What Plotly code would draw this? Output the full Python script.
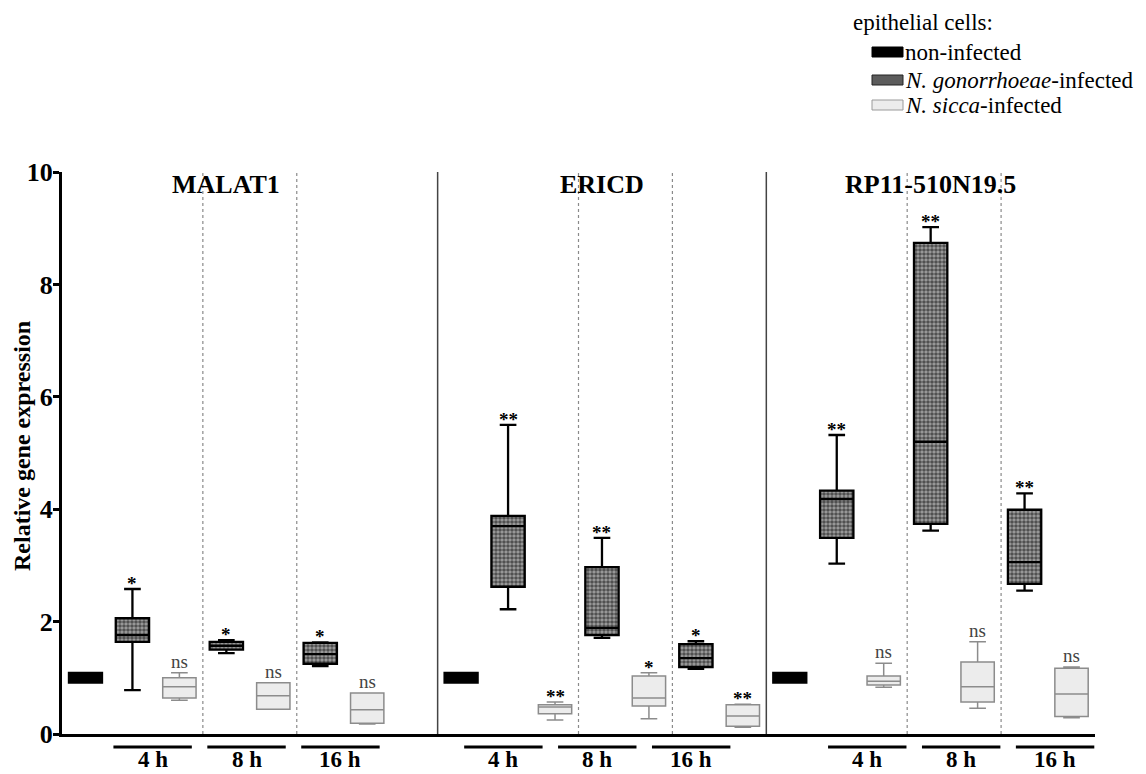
import plotly.graph_objects as go

# ---------------- data ----------------
genes = ["MALAT1", "ERICD", "RP11-510N19.5"]
times = ["4 h", "8 h", "16 h"]

# non-infected control (normalised to 1), one per gene
ctrl_q1 = [0.91, 0.91, 0.91]
ctrl_med = [1.00, 1.00, 1.00]
ctrl_q3 = [1.09, 1.09, 1.09]

# N. gonorrhoeae-infected: rows = gene, columns = 4 h, 8 h, 16 h
ng_lo = [[0.78, 1.44, 1.21], [2.22, 1.71, 1.16], [3.03, 3.62, 2.55]]
ng_q1 = [[1.64, 1.50, 1.25], [2.62, 1.76, 1.19], [3.49, 3.74, 2.67]]
ng_med = [[1.76, 1.57, 1.42], [3.70, 1.89, 1.35], [4.18, 5.20, 3.06]]
ng_q3 = [[2.06, 1.64, 1.62], [3.88, 2.97, 1.60], [4.33, 8.74, 3.99]]
ng_hi = [[2.58, 1.67, 1.63], [5.50, 3.49, 1.65], [5.32, 9.02, 4.28]]
ng_sig = [["*", "*", "*"], ["**", "**", "*"], ["**", "**", "**"]]

# N. sicca-infected
ns_lo = [[0.60, 0.44, 0.18], [0.25, 0.27, 0.12], [0.83, 0.46, 0.29]]
ns_q1 = [[0.64, 0.44, 0.19], [0.36, 0.50, 0.14], [0.87, 0.57, 0.31]]
ns_med = [[0.84, 0.68, 0.43], [0.48, 0.64, 0.32], [0.94, 0.84, 0.71]]
ns_q3 = [[1.00, 0.91, 0.73], [0.52, 1.03, 0.52], [1.03, 1.28, 1.17]]
ns_hi = [[1.09, 0.91, 0.73], [0.57, 1.09, 0.53], [1.26, 1.64, 1.19]]
ns_sig = [["ns", "ns", "ns"], ["**", "*", "**"], ["ns", "ns", "ns"]]

legend_title = "epithelial cells:"
legend_names = ["non-infected", "<i>N. gonorrhoeae</i>-infected", "<i>N. sicca</i>-infected"]
y_title = "Relative gene expression"

# ---------------- layout helpers ----------------
W, H = 1146, 774
ML, MR, MT, MB = 62, 51, 172, 40
PW, PH = W - ML - MR, H - MT - MB


def px_x(px):  # pixel -> paper x
    return (px - ML) / PW


def px_y(py):  # pixel -> paper y
    return (H - MB - py) / PH


panel_start = [0, 8, 15]           # slot index of each gene panel
label_shift = [-0.07, -0.6, 0.15]  # offset of the time-label bars (as in the figure)
BOXW = 0.71
FONT = "Liberation Serif, Times New Roman, DejaVu Serif, serif"
NG_LINE, NS_LINE = "black", "#8c8c8c"
NS_FILL = "#ececec"

cx, ngx, nsx = [], [], []
flat = {k: [] for k in ["ng_lo", "ng_q1", "ng_med", "ng_q3", "ng_hi", "ns_lo", "ns_q1", "ns_med", "ns_q3", "ns_hi"]}
for g in range(len(genes)):
    cx.append(panel_start[g])
    for t in range(len(times)):
        ngx.append(panel_start[g] + 1 + 2 * t)
        nsx.append(panel_start[g] + 2 + 2 * t)
        for k, src in [("ng_lo", ng_lo), ("ng_q1", ng_q1), ("ng_med", ng_med), ("ng_q3", ng_q3), ("ng_hi", ng_hi),
                       ("ns_lo", ns_lo), ("ns_q1", ns_q1), ("ns_med", ns_med), ("ns_q3", ns_q3), ("ns_hi", ns_hi)]:
            flat[k].append(src[g][t])

fig = go.Figure()

# box fills (bars from q1 to q3)
fig.add_trace(go.Bar(
    x=cx, base=ctrl_q1, y=[b - a for a, b in zip(ctrl_q1, ctrl_q3)], width=BOXW,
    marker=dict(color="black", line=dict(width=0)), name=legend_names[0], hoverinfo="skip"))
fig.add_trace(go.Bar(
    x=ngx, base=flat["ng_q1"], y=[b - a for a, b in zip(flat["ng_q1"], flat["ng_q3"])], width=BOXW,
    marker=dict(color="white", line=dict(width=0),
                pattern=dict(shape=".", fgcolor="#000000", bgcolor="#a0a0a0", size=4, solidity=0.62)),
    name=legend_names[1], hoverinfo="skip"))
fig.add_trace(go.Bar(
    x=nsx, base=flat["ns_q1"], y=[b - a for a, b in zip(flat["ns_q1"], flat["ns_q3"])], width=BOXW,
    marker=dict(color=NS_FILL, line=dict(width=0)), name=legend_names[2], hoverinfo="skip"))

# box outlines, medians, whiskers
fig.add_trace(go.Box(
    x=cx, q1=ctrl_q1, median=ctrl_med, q3=ctrl_q3, lowerfence=ctrl_q1, upperfence=ctrl_q3,
    width=BOXW, fillcolor="rgba(0,0,0,0)", line=dict(color="black", width=2),
    boxpoints=False, hoverinfo="skip"))
fig.add_trace(go.Box(
    x=ngx, q1=flat["ng_q1"], median=flat["ng_med"], q3=flat["ng_q3"],
    lowerfence=flat["ng_lo"], upperfence=flat["ng_hi"],
    width=BOXW, whiskerwidth=0.5, fillcolor="rgba(0,0,0,0)", line=dict(color=NG_LINE, width=2.3),
    boxpoints=False, hoverinfo="skip"))
fig.add_trace(go.Box(
    x=nsx, q1=flat["ns_q1"], median=flat["ns_med"], q3=flat["ns_q3"],
    lowerfence=flat["ns_lo"], upperfence=flat["ns_hi"],
    width=BOXW, whiskerwidth=0.5, fillcolor="rgba(0,0,0,0)", line=dict(color=NS_LINE, width=1.5),
    boxpoints=False, hoverinfo="skip"))

shapes, annos = [], []
for g, gene in enumerate(genes):
    s = panel_start[g]
    # gene title
    annos.append(dict(x=s + 3, y=1, xref="x", yref="paper", yanchor="middle", yshift=-12,
                      text="<b>%s</b>" % gene, showarrow=False, font=dict(family=FONT, size=26, color="black")))
    # dotted separators between time points
    for d in (2.5, 4.5):
        shapes.append(dict(type="line", xref="x", yref="y", x0=s + d, x1=s + d, y0=0, y1=10,
                           line=dict(color="#8a8a8a", width=1.2, dash="dot")))
    for t, tl in enumerate(times):
        c = s + 1.5 + 2 * t + label_shift[g]
        shapes.append(dict(type="line", xref="x", yref="paper", x0=c - 0.835, x1=c + 0.835,
                           y0=px_y(747), y1=px_y(747), line=dict(color="black", width=3)))
        annos.append(dict(x=c, y=px_y(H), xref="x", yref="paper", yanchor="bottom", showarrow=False,
                          text="<b>%s</b>" % tl, font=dict(family=FONT, size=23, color="black")))
        # significance marks
        for xs, hi, sig in [(s + 1 + 2 * t, ng_hi[g][t], ng_sig[g][t]), (s + 2 + 2 * t, ns_hi[g][t], ns_sig[g][t])]:
            star = sig.startswith("*")
            annos.append(dict(x=xs, y=hi, xref="x", yref="y", yanchor="bottom", showarrow=False,
                              yshift=-7 if star else -1, text=("<b>%s</b>" % sig) if star else sig,
                              font=dict(family=FONT, size=19, color="black" if star else "#444444")))

# solid separators between genes
for sx in (7.5, 14.5):
    shapes.append(dict(type="line", xref="x", yref="y", x0=sx, x1=sx, y0=0, y1=10,
                       line=dict(color="#444444", width=1.5)))

# y-axis title
annos.append(dict(x=px_x(22), y=px_y(446), xref="paper", yref="paper", xanchor="center", yanchor="middle",
                  textangle=-90, showarrow=False, text="<b>%s</b>" % y_title,
                  font=dict(family=FONT, size=24, color="black")))

# legend (drawn by hand to match the original swatches)
annos.append(dict(x=px_x(851), y=px_y(23), xref="paper", yref="paper", xanchor="left", yanchor="middle",
                  showarrow=False, text=legend_title, font=dict(family=FONT, size=23, color="black")))
sw_fill = ["black", "#5c5c5c", NS_FILL]
sw_line = ["black", "#222222", "#9a9a9a"]
for i, (name, cy) in enumerate(zip(legend_names, [52, 80, 105])):
    shapes.append(dict(type="rect", xref="paper", yref="paper", x0=px_x(872), x1=px_x(903),
                       y0=px_y(cy + 5), y1=px_y(cy - 5), fillcolor=sw_fill[i],
                       line=dict(color=sw_line[i], width=1)))
    annos.append(dict(x=px_x(903), y=px_y(cy), xref="paper", yref="paper", xanchor="left", yanchor="middle",
                      showarrow=False, text=name, font=dict(family=FONT, size=23, color="black")))

fig.update_layout(
    width=W, height=H,
    margin=dict(l=ML, r=MR, t=MT, b=MB),
    plot_bgcolor="white", paper_bgcolor="white",
    barmode="overlay", boxmode="overlay", showlegend=False,
    font=dict(family=FONT, color="black"),
    shapes=shapes, annotations=annos,
    xaxis=dict(range=[-0.5, 21.5], showticklabels=False, ticks="", showgrid=False, zeroline=False,
               showline=True, linecolor="black", linewidth=3, automargin=False),
    yaxis=dict(range=[0, 10], tickvals=[0, 2, 4, 6, 8, 10], ticks="outside", ticklen=6, tickwidth=2.5,
               tickcolor="black", showgrid=False, zeroline=False, showline=True, linecolor="black",
               linewidth=3, automargin=False, ticklabelstandoff=-5,
               tickfont=dict(family=FONT, size=26, color="black", weight="bold")),
)

fig.write_html("out.html")
